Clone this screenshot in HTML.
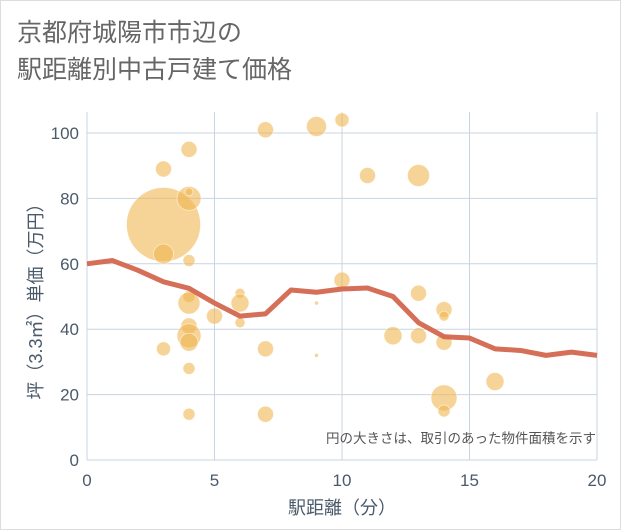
<!DOCTYPE html>
<html><head><meta charset="utf-8"><style>
body{margin:0;background:#fff}
svg{display:block;font-family:"Liberation Sans","Noto Sans CJK JP",sans-serif}
</style></head><body>
<svg id="c" width="621" height="530">
<rect x="0.5" y="0.5" width="620" height="529" fill="#fff" stroke="#ddd"/>
<text x="17" y="41" font-size="25" fill="#666">京都府城陽市市辺の</text>
<text x="17" y="78" font-size="25" fill="#666">駅距離別中古戸建て価格</text>
<g id="grid"></g>
<g id="bub"></g>
<g id="ln"></g>
<g id="ax"></g>
<text x="596" y="443" font-size="13.5" fill="#555" text-anchor="end">円の大きさは、取引のあった物件面積を示す</text>
<text x="342" y="514" font-size="18" fill="#4a5a6a" text-anchor="middle">駅距離（分）</text>
<text transform="translate(42,297) rotate(-90)" font-size="18" fill="#4a5a6a" text-anchor="middle">坪（3.3㎡）単価（万円）</text>
</svg>
<script>
const xTicks=[0,5,10,15,20];
const yTicks=[0,20,40,60,80,100];
const bubbleX=[3,3,3,3,4,4,4,4,4,4,4,4,4,4,4,5,6,6,6,7,7,7,9,9,9,10,10,11,12,13,13,13,14,14,14,14,14,16];
const bubbleY=[89,72,63,34,95,80,82,61,50,48,41,38,36,28,14,44,51,48,42,101,34,14,102,48,32,104,55,87,38,87,51,38,46,44,36,19,15,24];
const bubbleR=[8,37,10,7,8,12,4,6,6,11,8,12,9,6,6,8,5,9,5,8,8,8,10,2,2,7,8,8,9,11,8,8,8,5,8,13,6,9];
const lineX=[0,1,2,3,4,5,6,7,8,9,10,11,12,13,14,15,16,17,18,19,20];
const lineY=[60,61,58,54.5,52.5,48,44,44.7,52,51.3,52.3,52.6,50,42,37.7,37.3,34,33.5,32,33,32];
const NS="http://www.w3.org/2000/svg";
const X=v=>87+v*25.5, Y=v=>460-v*3.27;
function mk(t,a,p){const e=document.createElementNS(NS,t);for(const k in a)e.setAttribute(k,a[k]);p.appendChild(e);return e;}
const g=document.getElementById('grid'),ax=document.getElementById('ax');
xTicks.forEach(t=>{
 const l=mk('line',{x1:X(t),x2:X(t),y1:112,y2:460,stroke:'#c8d4e2','stroke-width':1},g);
 
 
 const tx=mk('text',{x:X(t),y:486,'font-size':17,fill:'#4a5a6a','text-anchor':'middle'},ax);
 tx.textContent=t;
 
 
});
yTicks.forEach(t=>{
 const l=mk('line',{x1:87,x2:597,y1:Y(t),y2:Y(t),stroke:'#c8d4e2','stroke-width':1},g);
 
 
 const tx=mk('text',{x:79,y:Y(t)+6,'font-size':17,fill:'#4a5a6a','text-anchor':'end'},ax);
 tx.textContent=t;
 
 
});
const b=document.getElementById('bub');
bubbleX.forEach((x,i)=>{
 const c=mk('circle',{cx:X(x),cy:Y(bubbleY[i]),r:bubbleR[i],fill:'#f0b550','fill-opacity':0.6,stroke:'#fff','stroke-width':0.8,'stroke-opacity':0.6},b);
 
 
});
const p=mk('polyline',{points:lineX.map((x,i)=>X(x)+','+Y(lineY[i])).join(' '),fill:'none',stroke:'#d4674e','stroke-width':5,'stroke-linejoin':'round','stroke-opacity':0.95},document.getElementById('ln'));


</script>
</body></html>
